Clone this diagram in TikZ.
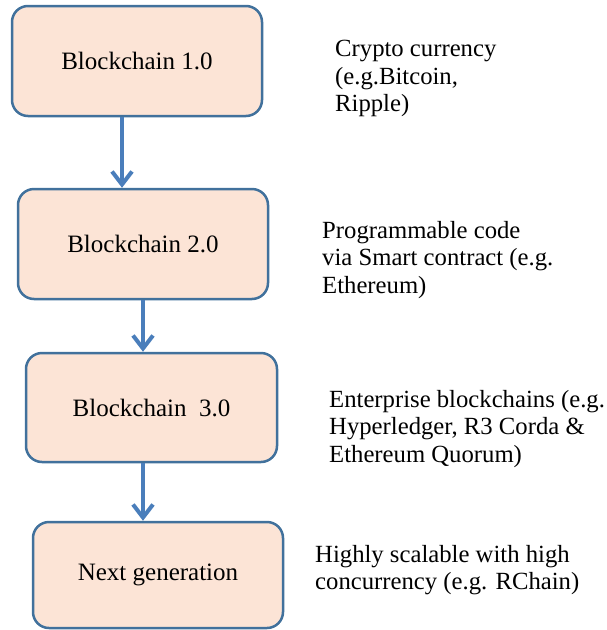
\documentclass[tikz,border=0pt]{standalone}
\usepackage{fontspec}
\setmainfont{Liberation Serif}
\usetikzlibrary{arrows.meta}
\definecolor{boxfill}{HTML}{FCE4D6}
\definecolor{boxline}{HTML}{41719C}
\definecolor{arrowc}{HTML}{4A7EBB}
\begin{document}
\begin{tikzpicture}[x=1pt,y=-1pt,
  genbox/.style={draw=boxline, fill=boxfill, line width=2.5pt, rounded corners=16pt,
    minimum width=250pt, minimum height=110pt, inner sep=0pt,
    font=\fontsize{25}{27.5}\selectfont},
  note/.style={anchor=north west, align=left, inner sep=0pt,
    font=\fontsize{24.7}{27.5}\selectfont},
  flow/.style={draw=arrowc, line width=4pt,
    -{Straight Barb[length=13pt,width=20pt,line width=4pt]}}]
\useasboundingbox (0,0) rectangle (606,630);
\node[genbox] (b1) at (137,61) {Blockchain 1.0};
\node[genbox] (b2) at (143,244) {Blockchain 2.0};
\node[genbox, minimum width=251pt, minimum height=109pt] (b3) at (151.5,407.5) {Blockchain\ \ 3.0};
\node[genbox, minimum height=106pt] (b4) at (158,575) {Next generation};
\node[note] (t1) at (335,40) {Crypto currency\\(e.g.Bitcoin,\\Ripple)};
\node[note] (t2) at (322,221) {Programmable code\\via Smart contract (e.g.\\Ethereum)};
\node[note] (t3) at (329,390) {Enterprise blockchains (e.g.\\Hyperledger, R3 Corda \&\\Ethereum Quorum)};
\node[note] (t4) at (315,545) {Highly scalable with high\\concurrency (e.g. RChain)};
\coordinate (x1) at (122,0);
\coordinate (x2) at (143,0);
\coordinate (x3) at (143,0);
\draw[flow] (b1.south -| x1) -- (b2.north -| x1);
\draw[flow] (b2.south -| x2) -- (b3.north -| x2);
\draw[flow] (b3.south -| x3) -- (b4.north -| x3);
\end{tikzpicture}
\end{document}
